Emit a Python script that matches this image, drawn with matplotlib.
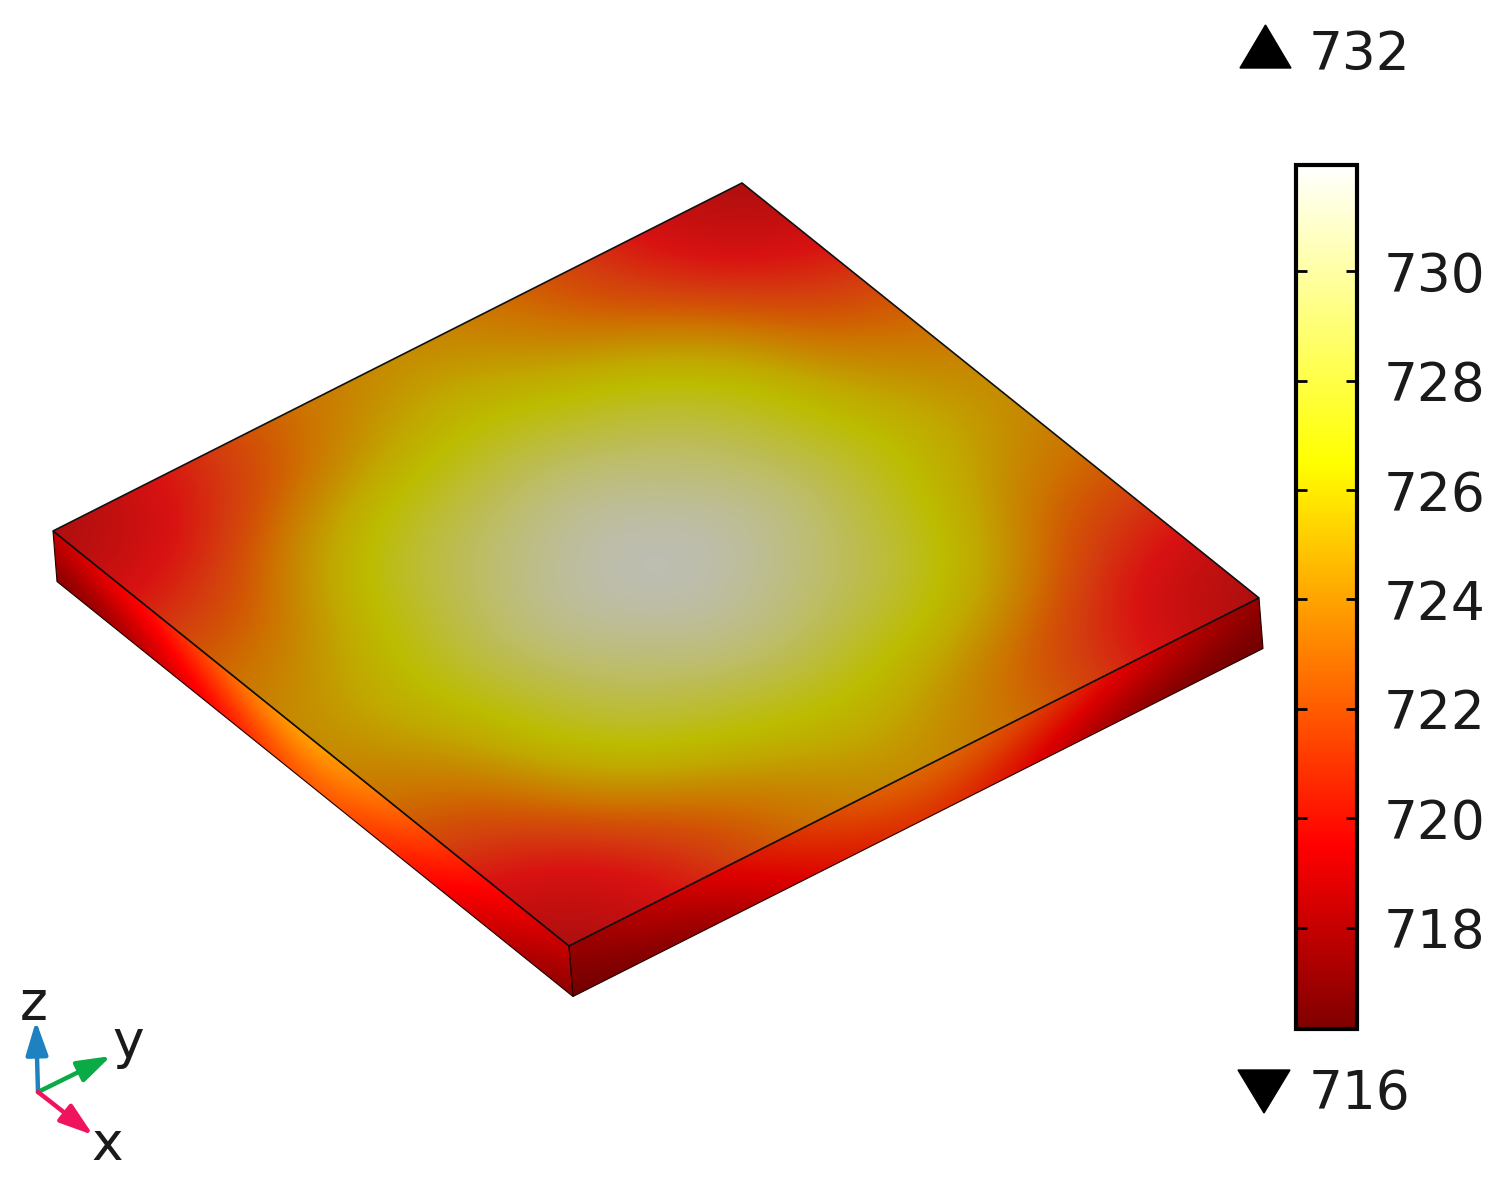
import matplotlib
matplotlib.use('Agg')
import matplotlib.pyplot as plt
import numpy as np
from matplotlib.cm import ScalarMappable
from matplotlib.colors import LinearSegmentedColormap, Normalize
from matplotlib.patches import Polygon
from matplotlib.transforms import Affine2D

half_row0 = [717.0, 718.4, 720.2, 722.2, 723.3, 724.0]
half_row1 = [718.4, 719.2, 721.2, 722.8, 724.6, 725.5]
half_row2 = [720.2, 721.2, 723.7, 726.0, 726.9, 727.5]
half_row3 = [722.2, 722.8, 726.0, 728.2, 729.2, 730.0]
half_row4 = [723.3, 724.6, 726.9, 729.2, 730.6, 731.4]
half_row5 = [724.0, 725.5, 727.5, 730.0, 731.4, 731.94]

# side faces, along the edge (top of the face, then bottom of the face)
sw_top = [718.0, 719.2, 720.0, 721.8, 723.4, 724.3, 723.4, 722.0, 720.3, 719.3, 717.9]
sw_bottom = [716.3, 716.8, 718.2, 719.5, 721.2, 722.2, 721.2, 719.8, 718.6, 717.3, 716.3]
se_top = [717.2, 718.4, 719.5, 720.8, 722.3, 723.0, 722.5, 721.3, 719.7, 718.4, 717.2]
se_bottom = [716.15, 716.6, 717.3, 719.0, 720.2, 721.2, 720.6, 718.8, 717.2, 716.5, 716.15]

t_min = 716.15
t_max = 731.94
bar_ticks = [718, 720, 722, 724, 726, 728, 730]

# colour stops
bar_temps = [716.15, 719.5, 726.5, 731.94]
bar_colors = ['#800000', '#ff0000', '#ffff00', '#ffffff']
top_temps = [716.15, 717.0, 718.0, 719.5, 721.0, 722.0, 723.0, 724.0, 725.2, 726.5, 731.94]
top_colors = ['#9a0f0f', '#a50f0f', '#bc0f0f', '#d91212', '#d43c0f', '#d25505', '#cd7300',
              '#c68c00', '#c1a800', '#bcbc00', '#bebebe']

W, H = 1503, 1179

# plate corners in pixels
left = np.array([53.0, 531.0])
top = np.array([742.0, 183.0])
bottom = np.array([569.0, 946.0])
right = np.array([1259.0, 598.0])
drop = np.array([4.0, 50.5])


def make_cmap(temps, colors, name):
    norm = Normalize(t_min, t_max)
    return LinearSegmentedColormap.from_list(name, list(zip(norm(temps), colors)), N=512)


def dim_colors(colors, f):
    return [tuple(f * c for c in matplotlib.colors.to_rgb(x)) for x in colors]


def mirror(row):
    return row + row[-2::-1]


cmap_bar = make_cmap(bar_temps, bar_colors, 'bar')
cmap_top = make_cmap(top_temps, top_colors, 'top')
cmap_se = make_cmap(bar_temps, dim_colors(bar_colors, 0.87), 'se')

plt.rcParams['font.family'] = 'DejaVu Sans'
fig = plt.figure(figsize=(W / 100, H / 100), dpi=100)
ax = fig.add_axes([0, 0, 1, 1])

# top face
rows = [half_row0, half_row1, half_row2, half_row3, half_row4, half_row5]
rows = rows + rows[-2::-1]
field = np.array([mirror(r) for r in rows])

centre = (left + right) / 2
eu = (bottom - left) / 2
ev = (top - left) / 2
top_tr = Affine2D.from_values(ev[0], ev[1], eu[0], eu[1], centre[0], centre[1])
top_face = Polygon([left, top, right, bottom], closed=True, fc='none', ec='#111111', lw=1.2, zorder=5)
ax.add_patch(top_face)
im = ax.imshow(field, origin='lower', extent=(-1.1, 1.1, -1.1, 1.1), cmap=cmap_top,
               vmin=t_min, vmax=t_max, interpolation='bicubic', interpolation_stage='data',
               transform=top_tr + ax.transData, aspect='auto', zorder=1)
im.set_clip_path(top_face)


# side faces
def side(start, end, t_top, t_bot, cmap):
    data = np.array([t_top, [(a + b) / 2 for a, b in zip(t_top, t_bot)], t_bot])
    e = end - start
    tr = Affine2D.from_values(e[0], e[1], drop[0], drop[1], start[0], start[1])
    face = Polygon([start, end, end + drop, start + drop], closed=True, fc='none', ec='#220000',
                   lw=0.8, zorder=4)
    ax.add_patch(face)
    img = ax.imshow(data, origin='lower', extent=(-0.05, 1.05, -0.25, 1.25), cmap=cmap,
                    vmin=t_min, vmax=t_max, interpolation='bicubic', interpolation_stage='data',
                    transform=tr + ax.transData, aspect='auto', zorder=1)
    img.set_clip_path(face)


side(left, bottom, sw_top, sw_bottom, cmap_bar)
side(bottom, right, se_top, se_bottom, cmap_se)

ax.set_xlim(0, W)
ax.set_ylim(H, 0)
ax.axis('off')

# max / min markers
ax.fill([1240, 1265.5, 1291], [68, 25, 68], color='black')
ax.fill([1238, 1264, 1290], [1070, 1113, 1070], color='black')
ax.text(1309, 49, '732', fontsize=38.4, ha='left', va='center_baseline', color='#1a1a1a')
ax.text(1309, 1089, '716', fontsize=38.4, ha='left', va='center_baseline', color='#1a1a1a')

# axis triad
orig = (38, 1092)
for tip, col in [((36, 1021), '#1f82c0'), ((111, 1056), '#0aaa46'), ((93, 1135), '#f0145f')]:
    ax.annotate('', xy=tip, xytext=orig,
                arrowprops=dict(arrowstyle='-|>,head_length=0.85,head_width=0.28', color=col, lw=3.2,
                                mutation_scale=24, shrinkA=0, shrinkB=0))
ax.text(34, 1004, 'z', fontsize=38.4, ha='center', va='center', color='#1a1a1a')
ax.text(128, 1043, 'y', fontsize=38.4, ha='center', va='center', color='#1a1a1a')
ax.text(107, 1145, 'x', fontsize=38.4, ha='center', va='center', color='#1a1a1a')

# colour bar
cax = fig.add_axes([1296 / W, (H - 1029) / H, 61 / W, 864 / H])
sm = ScalarMappable(Normalize(t_min, t_max), cmap_bar)
cb = fig.colorbar(sm, cax=cax, ticks=bar_ticks)
cb.outline.set_linewidth(3.0)
cb.ax.tick_params(direction='in', left=True, right=True, length=8, width=2.0, labelsize=38.4,
                  pad=19, labelcolor='#1a1a1a')

fig.savefig('out.png', dpi=100)
